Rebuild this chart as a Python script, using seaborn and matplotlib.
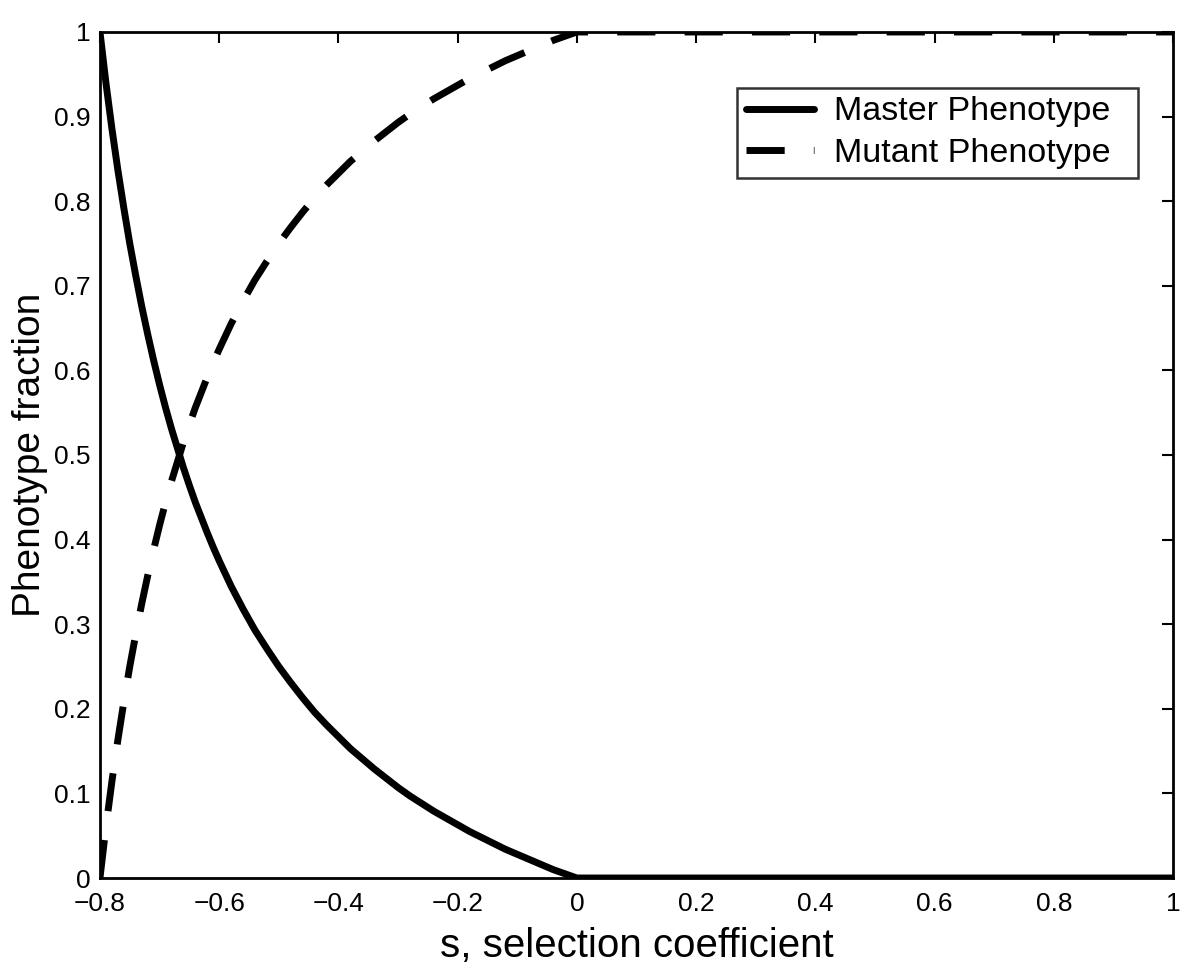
import matplotlib
matplotlib.use("Agg")
import matplotlib.pyplot as plt
import seaborn as sns
import pandas as pd

# values
s_values = [-0.80, -0.79, -0.78, -0.77, -0.76, -0.75, -0.74, -0.73, -0.72,
            -0.71, -0.70, -0.69, -0.68, -0.67, -0.66, -0.65, -0.64, -0.63,
            -0.62, -0.61, -0.60, -0.58, -0.56, -0.54, -0.52, -0.50, -0.48,
            -0.46, -0.44, -0.42, -0.40, -0.38, -0.36, -0.34, -0.32, -0.30,
            -0.28, -0.26, -0.24, -0.22, -0.20, -0.18, -0.16, -0.14, -0.12,
            -0.10, -0.08, -0.06, -0.04, -0.02, 0.00, 1.00]
master = [1.000, 0.940, 0.886, 0.837, 0.792, 0.750, 0.712, 0.676, 0.643,
          0.612, 0.583, 0.556, 0.531, 0.508, 0.485, 0.464, 0.444, 0.426,
          0.408, 0.391, 0.375, 0.345, 0.318, 0.293, 0.271, 0.250, 0.231,
          0.213, 0.196, 0.181, 0.167, 0.153, 0.141, 0.129, 0.118, 0.107,
          0.097, 0.088, 0.079, 0.071, 0.063, 0.055, 0.048, 0.041, 0.034,
          0.028, 0.022, 0.016, 0.010, 0.005, 0.000, 0.000]
mutant = [0.000, 0.060, 0.114, 0.163, 0.208, 0.250, 0.288, 0.324, 0.357,
          0.388, 0.417, 0.444, 0.469, 0.492, 0.515, 0.536, 0.556, 0.574,
          0.592, 0.609, 0.625, 0.655, 0.682, 0.707, 0.729, 0.750, 0.769,
          0.787, 0.804, 0.819, 0.833, 0.847, 0.859, 0.871, 0.882, 0.893,
          0.903, 0.912, 0.921, 0.929, 0.937, 0.945, 0.952, 0.959, 0.966,
          0.972, 0.978, 0.984, 0.990, 0.995, 1.000, 1.000]

x_ticks = [-0.8, -0.6, -0.4, -0.2, 0, 0.2, 0.4, 0.6, 0.8, 1]
x_ticklabels = ["\u22120.8", "\u22120.6", "\u22120.4", "\u22120.2", "0",
                "0.2", "0.4", "0.6", "0.8", "1"]
y_ticks = [0, 0.1, 0.2, 0.3, 0.4, 0.5, 0.6, 0.7, 0.8, 0.9, 1]
y_ticklabels = ["0", "0.1", "0.2", "0.3", "0.4", "0.5", "0.6", "0.7",
                "0.8", "0.9", "1"]

sns.set_style("white")
plt.rcParams["font.family"] = ["Liberation Sans", "DejaVu Sans"]
plt.rcParams["text.color"] = "black"
plt.rcParams["axes.labelcolor"] = "black"

df = pd.DataFrame({"s": s_values, "Master Phenotype": master,
                   "Mutant Phenotype": mutant})

fig = plt.figure(figsize=(12, 9.69), dpi=100)
ax = fig.add_axes([0.0833, 0.0939, 0.8942, 0.8731])

sns.lineplot(data=df, x="s", y="Master Phenotype", ax=ax, color="black",
             linewidth=5, sort=False, label="Master Phenotype")
sns.lineplot(data=df, x="s", y="Mutant Phenotype", ax=ax, color="black",
             linewidth=5, sort=False, label="Mutant Phenotype")
ax.lines[1].set_dashes((5.5, 4.2))
ax.lines[1].set_dash_capstyle("butt")

ax.set_xlim(-0.8, 1)
ax.set_ylim(0, 1)
ax.set_xticks(x_ticks)
ax.set_xticklabels(x_ticklabels)
ax.set_yticks(y_ticks)
ax.set_yticklabels(y_ticklabels)
ax.tick_params(direction="in", length=8, width=1.5, labelsize=19,
               top=True, right=True, colors="black")
ax.tick_params(axis="x", pad=10)
ax.tick_params(axis="y", pad=7)
for sp in ax.spines.values():
    sp.set_visible(True)
    sp.set_color("black")
    sp.set_linewidth(2)

ax.set_xlabel("s, selection coefficient", fontsize=29, labelpad=8)
ax.set_ylabel("Phenotype fraction", fontsize=28, labelpad=4)

# legend box spans roughly x 737-1138, y 88-177 px in the reference
leg = ax.legend(loc="upper left", bbox_to_anchor=(0.5937, 0.8286, 0.3737, 0.1052),
                mode="expand", borderaxespad=0, fontsize=24.5, frameon=True,
                fancybox=False, handlelength=2.0, handletextpad=0.6,
                labelspacing=0.32, borderpad=0.25)
leg.get_frame().set_edgecolor("black")
leg.get_frame().set_linewidth(1.8)

fig.savefig("out.png", dpi=100)
